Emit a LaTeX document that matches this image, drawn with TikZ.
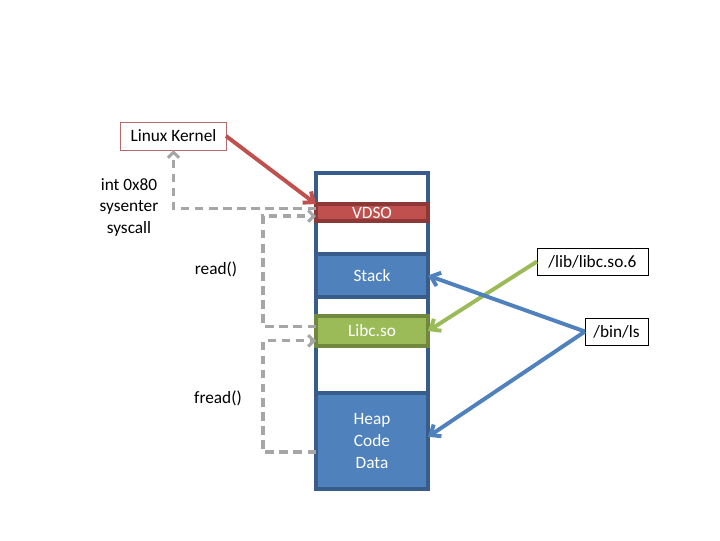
\documentclass[tikz,border=0pt]{standalone}
\usepackage{fontspec}
\setmainfont{Carlito}
\usepackage{tikz}
\usetikzlibrary{arrows.meta}

\definecolor{segred}{HTML}{C0504D}
\definecolor{segredline}{HTML}{8C3836}
\definecolor{segblue}{HTML}{4F81BD}
\definecolor{segblueline}{HTML}{385D8A}
\definecolor{seggreen}{HTML}{9BBB59}
\definecolor{seggreenline}{HTML}{71893F}
\definecolor{callgray}{HTML}{A6A6A6}
\definecolor{kernelline}{HTML}{B76A68}

\begin{document}
\begin{tikzpicture}[x=0.025cm, y=-0.025cm,
    font=\fontsize{12.3}{15.3}\selectfont,
    seg/.style={draw, line width=2.3pt, inner sep=0pt, outer sep=0pt,
      minimum width=2.8cm, text=white, align=center},
    label/.style={draw, line width=0.7pt, inner sep=0pt, outer sep=0pt},
    fat/.style={line width=2.8pt, -{Straight Barb[length=6pt, width=10pt]}},
    sys/.style={callgray, line width=2.2pt, dash pattern=on 6pt off 4pt,
      -{Straight Barb[length=4pt, width=8pt]}}]
  \useasboundingbox (0,0) rectangle (720,540);

  % the address space
  \node[draw=segblueline, line width=2.3pt, inner sep=0pt, outer sep=0pt,
    minimum width=2.8cm, minimum height=7.9cm] (mem) at (372,331) {};
  \node[seg, draw=segredline, fill=segred, minimum height=0.425cm] (vdso) at (372,212.5) {VDSO};
  \node[seg, draw=segblueline, fill=segblue, minimum height=1.075cm] (stack) at (372,275.5) {Stack};
  \node[seg, draw=seggreenline, fill=seggreen, minimum height=0.75cm] (libc) at (372,331) {Libc.so};
  \node[seg, draw=segblueline, fill=segblue, minimum height=2.4cm] (heap) at (372,441) {Heap\\Code\\Data};

  % boxes and labels
  \node[label, draw=kernelline, minimum width=2.625cm, minimum height=0.7cm] (kernel) at (173.5,136) {Linux Kernel};
  \node[label, minimum width=2.775cm, minimum height=0.675cm] (lib) at (592.5,261.5) {/lib/libc.so.6};
  \node[label, minimum width=1.575cm, minimum height=0.675cm] (bin) at (616.5,331.5) {/bin/ls};
  \node[align=center] (entry) at (129,207) {int 0x80\\sysenter\\syscall};
  \node (read) at (216,269) {read()};
  \node (fread) at (218,398) {fread()};

  % calls
  \draw[sys] ([yshift=3pt]vdso.west) -| (kernel.south);
  \draw[sys] ([yshift=3.5pt]libc.west) -- ++(-53,0) |- ([yshift=-2.5pt]vdso.west);
  \draw[sys] ([yshift=-7.8pt]heap.west) -- ++(-53,0) |- ([yshift=-7pt]libc.west);

  % mappings
  \draw[fat, segred] (kernel.east) -- (vdso.north west);
  \draw[fat, seggreen] (lib.west) -- (libc.east);
  \draw[fat, segblue] (bin.west) -- (stack.east);
  \draw[fat, segblue] (bin.west) -- ([yshift=3pt]heap.east);
\end{tikzpicture}
\end{document}
